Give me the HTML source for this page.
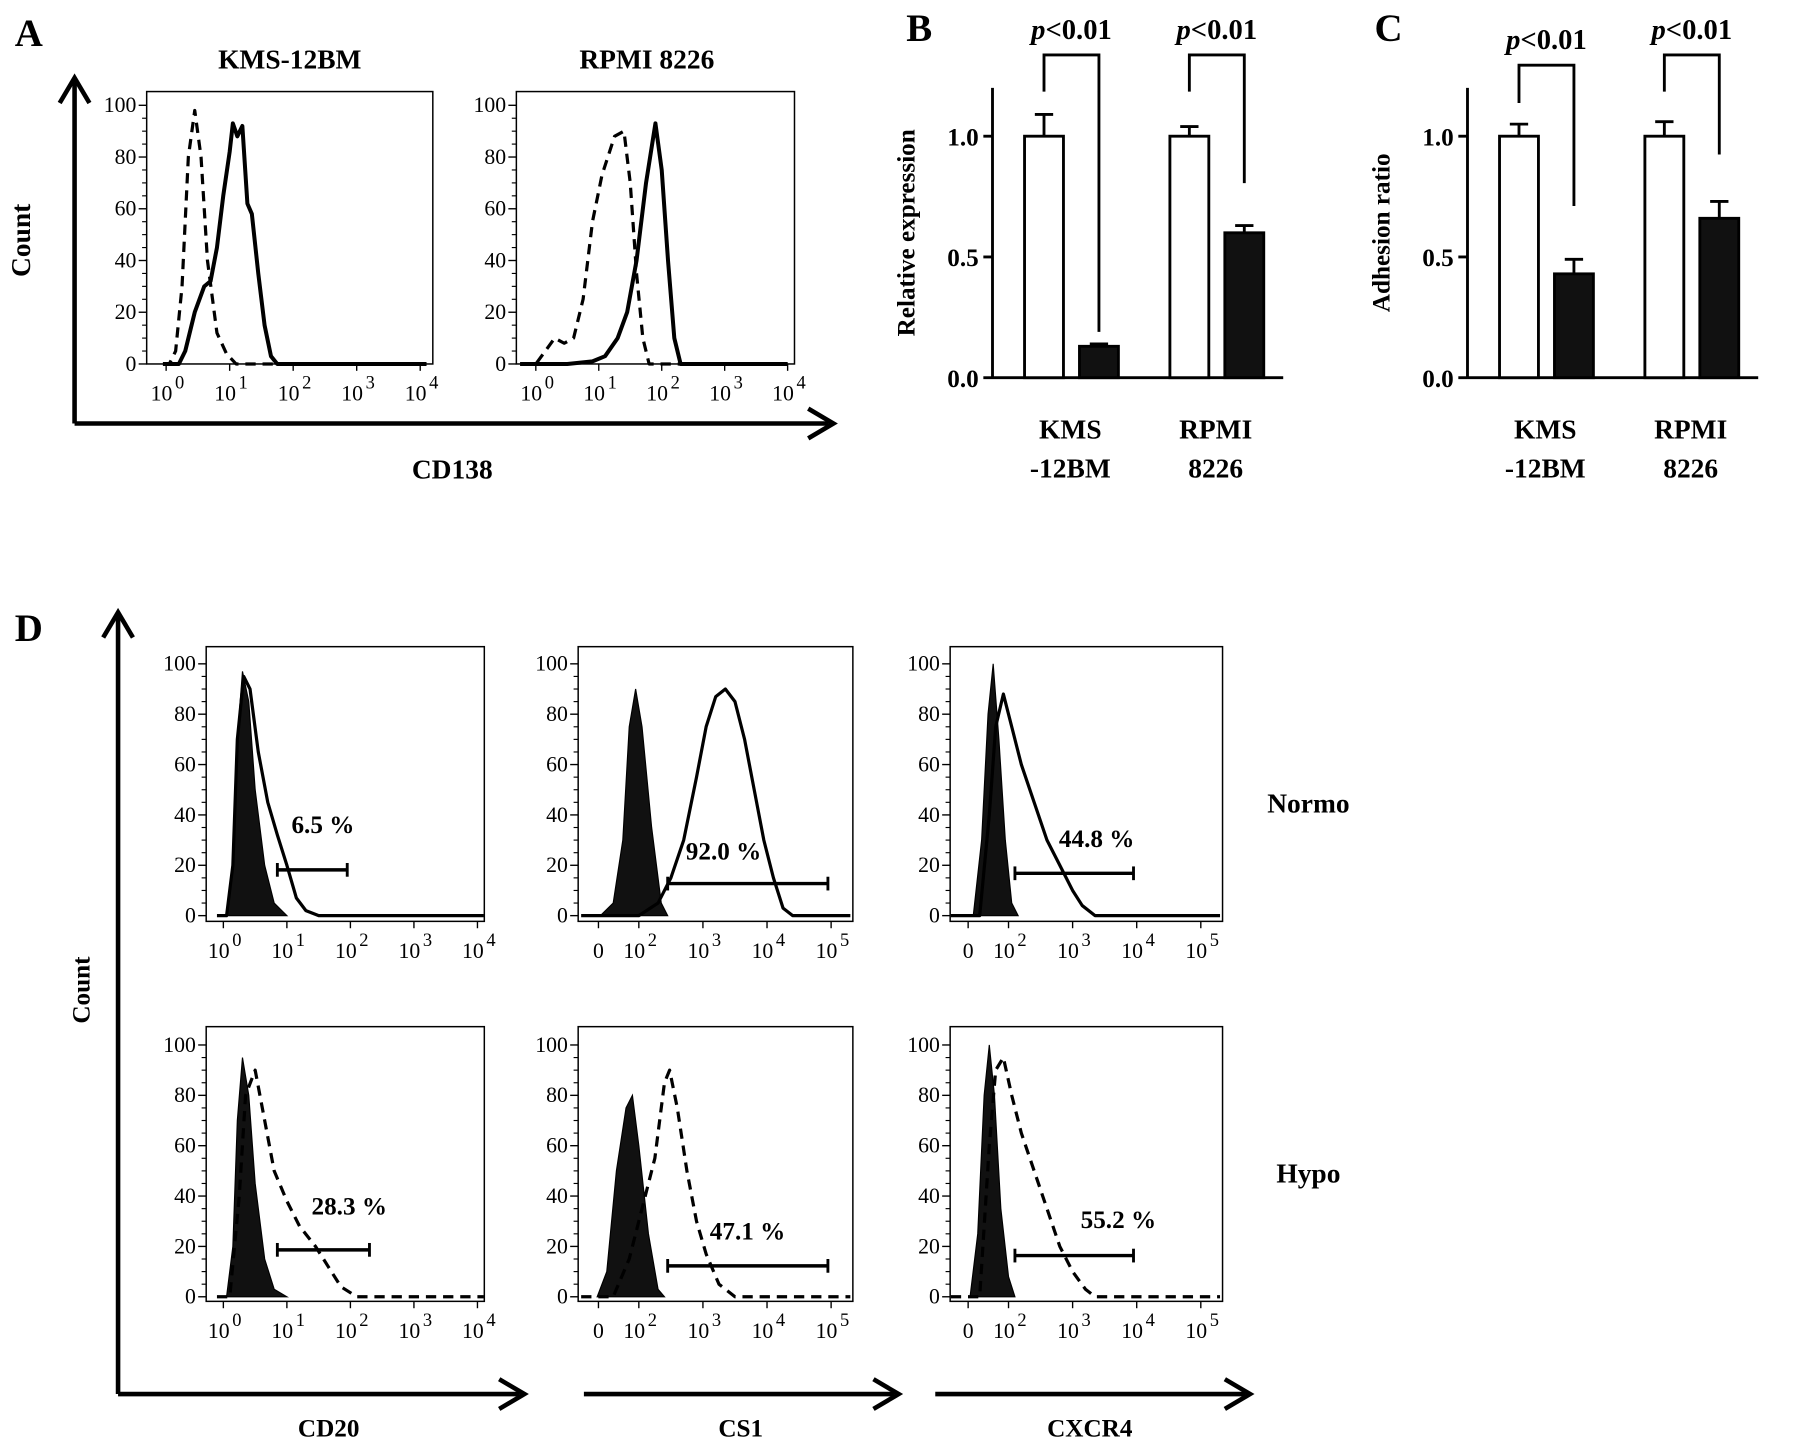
<!DOCTYPE html>
<html><head><meta charset="utf-8"><style>
html,body{margin:0;padding:0;background:#fff;}
svg{display:block;font-family:"Liberation Serif",serif;}
</style></head><body>
<svg id="fig" width="1795" height="1449" viewBox="0 0 1568 1266" xmlns="http://www.w3.org/2000/svg"></svg>
<script>
// ===== data =====
const barCategories = ["KMS-12BM","RPMI 8226"];
const relExprCtrl = [1.0, 1.0];
const relExprCtrlErr = [0.09, 0.04];
const relExprKD = [0.13, 0.60];
const relExprKDErr = [0.01, 0.03];
const adhCtrl = [1.0, 1.0];
const adhCtrlErr = [0.05, 0.06];
const adhKD = [0.43, 0.66];
const adhKDErr = [0.06, 0.07];
const barTicks = [0.0, 0.5, 1.0];
const countTicks = [0,20,40,60,80,100];
// histogram curves: [log10 value, count]
const a1Dashed = [[0.05,0],[0.15,5],[0.25,30],[0.35,80],[0.45,98],[0.55,80],[0.65,40],[0.8,12],[0.95,4],[1.1,0]];
const a1Solid = [[0.2,0],[0.3,5],[0.45,20],[0.6,30],[0.7,32],[0.8,45],[0.9,65],[1.0,82],[1.05,93],[1.12,88],[1.2,92],[1.28,62],[1.35,58],[1.45,35],[1.55,15],[1.65,3],[1.75,0]];
const a2Dashed = [[0.0,0],[0.15,5],[0.3,10],[0.45,8],[0.6,10],[0.75,25],[0.9,55],[1.05,73],[1.25,88],[1.4,90],[1.5,70],[1.6,35],[1.7,10],[1.8,0]];
const a2Solid = [[0.0,0],[0.5,0],[0.9,1],[1.1,3],[1.3,10],[1.45,20],[1.6,40],[1.75,70],[1.9,93],[2.0,75],[2.1,40],[2.2,10],[2.3,0]];
const d1Fill = [[0.05,0],[0.15,20],[0.22,70],[0.3,97],[0.4,85],[0.5,50],[0.65,20],[0.8,5],[1.0,0]];
const d1Line = [[0.05,0],[0.15,20],[0.22,70],[0.32,95],[0.42,90],[0.55,65],[0.7,45],[0.85,32],[1.0,20],[1.15,7],[1.3,2],[1.5,0]];
const d2Fill = [[1.4,0],[1.6,5],[1.75,30],[1.85,75],[1.95,90],[2.05,75],[2.2,35],[2.35,5],[2.45,0]];
const d2Line = [[2.0,0],[2.3,5],[2.5,15],[2.7,30],[2.9,55],[3.05,75],[3.2,87],[3.35,90],[3.5,85],[3.65,70],[3.8,50],[3.95,30],[4.1,15],[4.25,3],[4.4,0]];
const d3Fill = [[1.45,0],[1.58,30],[1.68,80],[1.76,100],[1.85,70],[1.95,30],[2.05,5],[2.15,0]];
const d3Line = [[1.55,0],[1.7,40],[1.8,75],[1.92,88],[2.05,75],[2.2,60],[2.4,45],[2.6,30],[2.8,20],[3.0,10],[3.15,4],[3.35,0]];
const d4Fill = [[0.05,0],[0.15,20],[0.22,70],[0.3,95],[0.4,80],[0.5,45],[0.65,15],[0.8,3],[1.0,0]];
const d4Line = [[0.1,0],[0.25,40],[0.35,80],[0.5,90],[0.65,70],[0.8,50],[1.0,38],[1.2,28],[1.45,20],[1.65,12],[1.85,4],[2.1,0]];
const d5Fill = [[1.35,0],[1.5,10],[1.65,50],[1.8,75],[1.9,80],[2.0,60],[2.15,25],[2.3,3],[2.4,0]];
const d5Line = [[1.6,0],[1.85,15],[2.05,35],[2.25,55],[2.4,85],[2.48,90],[2.6,75],[2.75,50],[2.9,30],[3.05,17],[3.25,5],[3.5,0]];
const d6Fill = [[1.4,0],[1.52,25],[1.62,80],[1.7,100],[1.78,80],[1.88,35],[2.0,8],[2.1,0]];
const d6Line = [[1.55,0],[1.7,60],[1.8,90],[1.92,95],[2.05,80],[2.2,65],[2.4,50],[2.6,35],[2.8,20],[3.0,10],[3.2,3],[3.35,0]];
const gatesD = [[0.85,1.95],[2.45,4.95],[2.1,3.95],[0.85,2.3],[2.45,4.95],[2.1,3.95]];
const gateLabels = ["6.5 %","92.0 %","44.8 %","28.3 %","47.1 %","55.2 %"];

// ===== helpers =====
const svg = document.getElementById('fig');
const NS = "http://www.w3.org/2000/svg";
function el(tag, attrs, parent){
  const e = document.createElementNS(NS, tag);
  for (const k in attrs) e.setAttribute(k, attrs[k]);
  (parent||svg).appendChild(e);
  return e;
}
function txt(s, x, y, size, opts, parent){
  opts = opts||{};
  const t = el('text', {x:x, y:y, 'font-size':size, 'text-anchor':opts.anchor||'middle', 'font-weight':opts.bold?'bold':'normal', 'font-style':opts.italic?'italic':'normal', fill:'#000'}, parent);
  if (opts.rot) t.setAttribute('transform', 'rotate(-90 '+x+' '+y+')');
  t.textContent = s;
  return t;
}
function arrowH(x1, x2, y, name){
  const g = el('g', {});
  
  
  el('line', {x1:x1, y1:y, x2:x2-4, y2:y, stroke:'#000','stroke-width':4}, g);
  el('polyline', {points:(x2-22)+','+(y-13)+' '+x2+','+y+' '+(x2-22)+','+(y+13), fill:'none', stroke:'#000','stroke-width':4}, g);
}
function arrowV(x, y1, y2, name){
  const g = el('g', {});
  
  
  el('line', {x1:x, y1:y1, x2:x, y2:y2+4, stroke:'#000','stroke-width':4}, g);
  el('polyline', {points:(x-13)+','+(y2+22)+' '+x+','+y2+' '+(x+13)+','+(y2+22), fill:'none', stroke:'#000','stroke-width':4}, g);
}
function pow10(g, x, y, exp, size){
  const t = el('text', {x:x, y:y, 'font-size':size, 'text-anchor':'middle', fill:'#000'}, g);
  t.textContent = '10';
  const s = el('text', {x:x+size*0.62, y:y-size*0.55, 'font-size':size*0.85, 'text-anchor':'start', fill:'#000'}, g);
  s.textContent = String(exp);
}

function histPanel(cfg){
  const g = el('g', {});
  
  
  const yS = v => cfg.y0 + (cfg.y100 - cfg.y0) * v / 100;
  el('rect', {x:cfg.fx, y:cfg.fy, width:cfg.fw, height:cfg.fh, fill:'none', stroke:'#000','stroke-width':1.3}, g);
  countTicks.forEach(v => {
    el('line', {x1:cfg.fx-7, y1:yS(v), x2:cfg.fx, y2:yS(v), stroke:'#000','stroke-width':1.2}, g);
    txt(String(v), cfg.fx-9, yS(v)+6, 19, {anchor:'end'}, g);
  });
  for (let v=5; v<=100; v+=5) if (v%20) el('line', {x1:cfg.fx-4, y1:yS(v), x2:cfg.fx, y2:yS(v), stroke:'#000','stroke-width':1}, g);
  cfg.xLabels.forEach(l => {
    const x = cfg.xf(l[0]);
    el('line', {x1:x, y1:cfg.fy+cfg.fh, x2:x, y2:cfg.fy+cfg.fh+6, stroke:'#000','stroke-width':1.2}, g);
    if (l[1] === '0') txt('0', x, cfg.fy+cfg.fh+32, 19, {}, g);
    else pow10(g, x-4, cfg.fy+cfg.fh+32, l[1], 19);
  });
  const pts = arr => arr.map(p => cfg.xf(p[0]).toFixed(1)+','+yS(p[1]).toFixed(1)).join(' ');
  if (cfg.fill){
    const f = el('polygon', {points:pts(cfg.fill), fill:'#111', stroke:'#000','stroke-width':1}, g);
    
    
  }
  (cfg.lines||[]).forEach(L => {
    const baseLeft = [[cfg.xmin, 0]], baseRight = [[cfg.xmax, 0]];
    const p = el('polyline', {points:pts(baseLeft.concat(L.data, baseRight)), fill:'none', stroke:'#000','stroke-width':L.w||3,'stroke-dasharray':L.dash||'none','stroke-linejoin':'round'}, g);
    
    
  });
  if (cfg.gate){
    const gy = cfg.gateY, a = cfg.xf(cfg.gate[0]), b = cfg.xf(cfg.gate[1]);
    const gg = el('g', {}, g);
    
    
    el('line', {x1:a, y1:gy, x2:b, y2:gy, stroke:'#000','stroke-width':3}, gg);
    el('line', {x1:a, y1:gy-6, x2:a, y2:gy+6, stroke:'#000','stroke-width':2.5}, gg);
    el('line', {x1:b, y1:gy-6, x2:b, y2:gy+6, stroke:'#000','stroke-width':2.5}, gg);
    txt(cfg.gateLabel, cfg.gateTx, cfg.gateTy, 22, {bold:true}, gg);
  }
  return g;
}

// ===== Panel A =====
txt('A', 25, 40, 34, {bold:true});
txt('KMS-12BM', 253, 60, 24, {bold:true});
txt('RPMI 8226', 565, 60, 24, {bold:true});
arrowV(65, 370, 68, 'count-axis-a');
arrowH(65, 728, 370, 'cd138-axis');
txt('Count', 26, 210, 24, {bold:true, rot:true});
txt('CD138', 395, 418, 24, {bold:true});
const logLabels = [[0,0],[1,1],[2,2],[3,3],[4,4]];
histPanel({name:'hist-kms12bm', fx:128, fy:80, fw:250, fh:238, y0:318, y100:92,
  xf:v=>145+v*55.5, xmin:-0.05, xmax:4.1, xLabels:logLabels,
  lines:[{data:a1Dashed, dash:'9 6', w:2.8, name:'control-curve'},{data:a1Solid, w:3.5, name:'cd138-curve'}]});
histPanel({name:'hist-rpmi8226', fx:451, fy:80, fw:243, fh:238, y0:318, y100:92,
  xf:v=>468+v*55, xmin:-0.25, xmax:4, xLabels:logLabels,
  lines:[{data:a2Dashed, dash:'9 6', w:2.8, name:'control-curve'},{data:a2Solid, w:3.5, name:'cd138-curve'}]});

// ===== Bar panels =====
function barPanel(cfg){
  const g = el('g', {});
  
  
  const yS = v => cfg.y0 + (cfg.y1 - cfg.y0) * v;
  el('line', {x1:cfg.ax, y1:yS(1.2), x2:cfg.ax, y2:cfg.y0, stroke:'#000','stroke-width':2.5}, g);
  el('line', {x1:cfg.ax, y1:cfg.y0, x2:cfg.ax+254, y2:cfg.y0, stroke:'#000','stroke-width':2.5}, g);
  barTicks.forEach(v => {
    el('line', {x1:cfg.ax-8, y1:yS(v), x2:cfg.ax, y2:yS(v), stroke:'#000','stroke-width':2.5}, g);
    txt(v.toFixed(1), cfg.ax-12, yS(v)+8, 22, {anchor:'end', bold:true}, g);
  });
  txt(cfg.ylabel, cfg.ax-68, yS(0.6), 22, {bold:true, rot:true}, g);
  barCategories.forEach((c, i) => {
    const gx = cfg.ax + 28 + i*127;
    const bars = [[cfg.ctrl[i], cfg.ctrlErr[i], '#fff', 'control-bar'], [cfg.kd[i], cfg.kdErr[i], '#111', 'knockdown-bar']];
    bars.forEach((b, j) => {
      const x = gx + j*48, w = 34, cx = x + w/2;
      el('line', {x1:cx, y1:yS(b[0]), x2:cx, y2:yS(b[0]+b[1]), stroke:'#000','stroke-width':2.5}, g);
      el('line', {x1:cx-8, y1:yS(b[0]+b[1]), x2:cx+8, y2:yS(b[0]+b[1]), stroke:'#000','stroke-width':2.5}, g);
      const r = el('rect', {x:x, y:yS(b[0]), width:w, height:cfg.y0-yS(b[0]), fill:b[2], stroke:'#000','stroke-width':2.5}, g);
      
      
    });
    const lx = gx + 40;
    const lines = c === 'KMS-12BM' ? ['KMS','-12BM'] : ['RPMI','8226'];
    txt(lines[0], lx, 383, 24, {bold:true}, g);
    txt(lines[1], lx, 417, 24, {bold:true}, g);
    const br = el('g', {}, g);
    
    
    const x1 = gx+17, x2 = gx+48+17, top = cfg.brTop[i];
    el('polyline', {points:x1+','+cfg.brL[i]+' '+x1+','+top+' '+x2+','+top+' '+x2+','+cfg.brR[i], fill:'none', stroke:'#000','stroke-width':2.5}, br);
    const t = el('text', {x:(x1+x2)/2, y:top-14, 'font-size':25, 'text-anchor':'middle', 'font-weight':'bold', fill:'#000'}, br);
    const ti = el('tspan', {'font-style':'italic'}, t); ti.textContent = 'p';
    const tr = el('tspan', {}, t); tr.textContent = '<0.01';
  });
  return g;
}
txt('B', 803, 36, 34, {bold:true});
barPanel({name:'relative-expression-chart', ax:867, y0:330, y1:119, ylabel:'Relative expression',
  ctrl:relExprCtrl, ctrlErr:relExprCtrlErr, kd:relExprKD, kdErr:relExprKDErr,
  brTop:[48,48], brL:[80,80], brR:[290,160]});
txt('C', 1213, 36, 34, {bold:true});
barPanel({name:'adhesion-ratio-chart', ax:1282, y0:330, y1:119, ylabel:'Adhesion ratio',
  ctrl:adhCtrl, ctrlErr:adhCtrlErr, kd:adhKD, kdErr:adhKDErr,
  brTop:[57,48], brL:[90,80], brR:[180,135]});

// ===== Panel D =====
txt('D', 25, 560, 34, {bold:true});
arrowV(103, 1218, 535, 'count-axis-d');
arrowH(103, 458, 1218, 'cd20-axis');
arrowH(510, 785, 1218, 'cs1-axis');
arrowH(817, 1092, 1218, 'cxcr4-axis');
txt('Count', 78, 865, 22, {bold:true, rot:true});
txt('CD20', 287, 1255, 22, {bold:true});
txt('CS1', 647, 1255, 22, {bold:true});
txt('CXCR4', 952, 1255, 22, {bold:true});
txt('Normo', 1143, 710, 24, {bold:true});
txt('Hypo', 1143, 1033, 24, {bold:true});

const bxLabels = [[1.37,'0'],[2,2],[3,3],[4,4],[5,5]];
const cols = [
  {fx:180, fw:243, xf:v=>195+v*55.5, xmin:-0.1, xmax:4.1, labels:logLabels},
  {fx:505, fw:240, xf:v=>558+(v-2)*56, xmin:1.1, xmax:5.3, labels:bxLabels},
  {fx:830, fw:238, xf:v=>881+(v-2)*56, xmin:1.1, xmax:5.3, labels:bxLabels}
];
const rows = [{fy:565, y0:800, y100:580, dash:'none', names:'normoxia'},{fy:897, y0:1133, y100:913, dash:'9 6', names:'hypoxia'}];
const fills = [d1Fill, d2Fill, d3Fill, d4Fill, d5Fill, d6Fill];
const linesD = [d1Line, d2Line, d3Line, d4Line, d5Line, d6Line];
const markers = ['cd20','cs1','cxcr4'];
const gateYs = [760,772,763,1092,1106,1097];
const gateTxt = [[282,728],[632,751],[958,740],[305,1061],[653,1083],[977,1073]];
rows.forEach((r, ri) => cols.forEach((c, ci) => {
  const k = ri*3+ci;
  histPanel({name:'hist-'+markers[ci]+'-'+r.names, fx:c.fx, fy:r.fy, fw:c.fw, fh:240, y0:r.y0, y100:r.y100,
    xf:c.xf, xmin:c.xmin, xmax:c.xmax, xLabels:c.labels, fill:fills[k],
    lines:[{data:linesD[k], dash:r.dash, w:2.8, name:markers[ci]+'-curve'}],
    gate:gatesD[k], gateY:gateYs[k], gateLabel:gateLabels[k], gateTx:gateTxt[k][0], gateTy:gateTxt[k][1]});
}));
</script>
</body></html>
